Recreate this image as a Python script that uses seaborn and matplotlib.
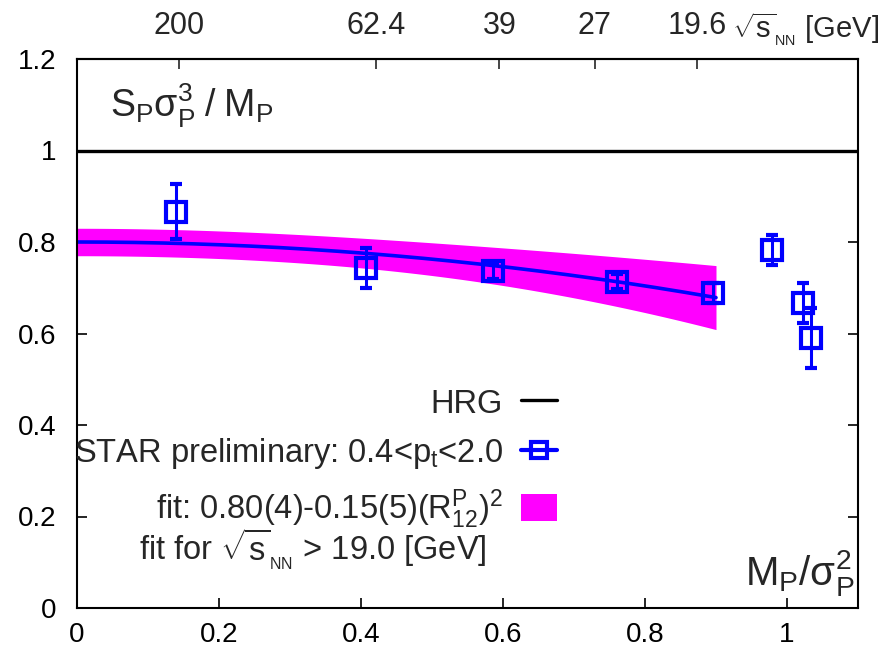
import numpy as np
import pandas as pd
import matplotlib
matplotlib.use("Agg")
import matplotlib.pyplot as plt
import seaborn as sns
from matplotlib.lines import Line2D
from matplotlib.patches import Patch

# Net-proton ratio S*sigma^3/M versus M/sigma^2 (STAR preliminary)
mp_over_var = [0.140, 0.4065, 0.586, 0.760, 0.896, 0.979, 1.0225, 1.034]
ssig3_over_m = [0.866, 0.743, 0.737, 0.713, 0.688, 0.782, 0.666, 0.590]
ssig3_err = [0.060, 0.043, 0.018, 0.016, 0.022, 0.033, 0.044, 0.065]

# Collision energies shown on the top axis
energy_labels = ["200", "62.4", "39", "27", "19.6"]
energy_pos = [0.1435, 0.4215, 0.595, 0.729, 0.873]

# Fit a - b*(R12)^2 and its band
fit_a, fit_b = 0.80, 0.15
fit_a_err, fit_b_err = 0.03, 0.078
fit_xmax = 0.9
hrg_value = 1.0

x_ticks = [0, 0.2, 0.4, 0.6, 0.8, 1.0]
x_tick_labels = ["0", "0.2", "0.4", "0.6", "0.8", "1"]
y_ticks = [0, 0.2, 0.4, 0.6, 0.8, 1.0, 1.2]
y_tick_labels = ["0", "0.2", "0.4", "0.6", "0.8", "1", "1.2"]

sns.set_theme(style="ticks")
plt.rcParams["font.family"] = ["Liberation Sans", "DejaVu Sans"]
plt.rcParams["mathtext.fontset"] = "custom"
plt.rcParams["mathtext.rm"] = "Liberation Sans"
plt.rcParams["mathtext.it"] = "Liberation Sans"
plt.rcParams["mathtext.sf"] = "Liberation Sans"
plt.rcParams["mathtext.bf"] = "Liberation Sans:bold"

BLUE = "#0000ff"
MAGENTA = "#ff00ff"

fig = plt.figure(figsize=(8.84, 6.56), dpi=100)
ax = fig.add_axes([77 / 884, 48 / 656, 781 / 884, 549 / 656])

# fit curve and uncertainty band
xf = np.linspace(0, fit_xmax, 200)
yf = fit_a - fit_b * xf ** 2
band = np.sqrt(fit_a_err ** 2 + (fit_b_err * xf ** 2) ** 2)
fit_df = pd.DataFrame({"x": xf, "y": yf})
ax.fill_between(xf, yf - band, yf + band, color=MAGENTA, lw=0, zorder=1)
sns.lineplot(data=fit_df, x="x", y="y", color=BLUE, lw=2.6, ax=ax, zorder=2)

# HRG baseline
hrg_df = pd.DataFrame({"x": [0, 1.1], "y": [hrg_value, hrg_value]})
sns.lineplot(data=hrg_df, x="x", y="y", color="black", lw=2.4, ax=ax, zorder=2)

# data points
ax.errorbar(mp_over_var, ssig3_over_m, yerr=ssig3_err, fmt="s", mfc="none",
            mec=BLUE, ms=14, mew=3.0, ecolor=BLUE, elinewidth=2.2,
            capsize=4, capthick=3.0, zorder=5)

ax.set_xlim(0, 1.1)
ax.set_ylim(0, 1.2)
ax.set_xticks(x_ticks, labels=x_tick_labels)
ax.set_yticks(y_ticks, labels=y_tick_labels)
ax.tick_params(direction="in", length=7, width=1.2, top=False, right=True,
               labelsize=20, colors="black")
ax.tick_params(axis="y", pad=15)
ax.tick_params(axis="x", pad=10)
ax.set_xlabel("")
ax.set_ylabel("")
for s in ax.spines.values():
    s.set_linewidth(1.5)
    s.set_color("black")

sec = ax.secondary_xaxis("top")
sec.set_xticks(energy_pos, labels=energy_labels)
sec.tick_params(direction="in", length=7, width=1.2, labelsize=22, pad=13)
sec.spines["top"].set_linewidth(1.5)

fig.text(732 / 884, (656 - 38) / 656, r"$\sqrt{s}_{_{\rm NN}}$ [GeV]",
         fontsize=21, ha="left", va="baseline")

# panel annotations
ax.text((110 - 77) / 781, (608 - 117) / 549, r"$\mathrm{S_P\sigma_P^3\;/\;M_P}$",
        transform=ax.transAxes, fontsize=27, ha="left", va="baseline")
ax.text(0.995, (608 - 585) / 549, r"$\mathrm{M_P/\sigma_P^2}$",
        transform=ax.transAxes, fontsize=29, ha="right", va="baseline")

# legend
handles = [
    Line2D([], [], color="black", lw=2.4),
    Line2D([], [], color=BLUE, lw=3, marker="s", mfc="none", mec=BLUE, mew=3, ms=12),
    Patch(facecolor=MAGENTA, edgecolor="none"),
]
labels = [
    "HRG",
    r"STAR preliminary: 0.4<p$_{\rm t}$<2.0",
    r"fit: 0.80(4)-0.15(5)(R$_{12}^{\rm P}$)$^2$",
]
ax.legend(handles, labels, loc="upper right", frameon=False, markerfirst=False,
          fontsize=23.5, borderpad=0, borderaxespad=0, handlelength=1.1,
          handleheight=0.9, handletextpad=0.55, labelspacing=0.5,
          bbox_to_anchor=((557 - 77) / 781, (608 - 388) / 549))
ax.text((487 - 77) / 781, (608 - 561) / 549,
        r"fit for $\sqrt{s}_{_{\rm NN}}$ > 19.0 [GeV]",
        transform=ax.transAxes, fontsize=23.5, ha="right", va="baseline")

fig.savefig("out.png", dpi=100)
